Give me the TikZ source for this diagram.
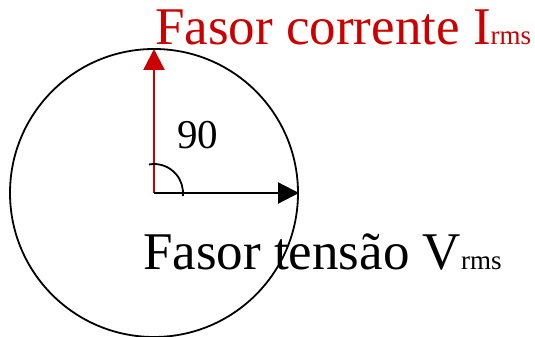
\documentclass[tikz,border=0pt]{standalone}
\usepackage{fontspec}
\setmainfont{Liberation Serif}
\usepackage{tikz}
\usetikzlibrary{arrows.meta,positioning,calc}
\usepackage{xcolor}
\definecolor{fsred}{RGB}{204,0,0}
\definecolor{fsink}{RGB}{0,0,0}
\newcommand{\rmssub}{{\fontsize{27}{27}\selectfont rms}}

\begin{document}
\begin{tikzpicture}[
  x=1pt, y=1pt,
  lbl/.style={anchor=base west, inner sep=0pt, font=\fontsize{53}{53}\selectfont},
  ring/.style={circle, draw=fsink, line width=1.8pt, minimum size=288pt, inner sep=0pt},
  arr/.style={-{Triangle[length=21pt,width=21pt]}, line width=2.2pt, shorten >=-1pt}
]
\useasboundingbox (0,0) rectangle (535,337);
\coordinate (O) at (154,144);
\coordinate (itip) at (154,287);
\coordinate (vtip) at (298,144);
\node[ring] (disc) at (O) {};
\draw[arr, fsred] (O) -- (itip);
\draw[arr, fsink] (O) -- (vtip);
\draw[line width=1.8pt] ($(O)+(100:29)$) arc (100:-6:29);

\node[lbl, fsred] (ilbl) at (155,292) {Fasor corrente I\rmssub};
\node[lbl, fsink] (vlbl) at (143,67) {Fasor tensão V\rmssub};
\node[lbl, fsink, font=\fontsize{41}{41}\selectfont] (ang) at (177,188) {90};
\end{tikzpicture}
\end{document}
